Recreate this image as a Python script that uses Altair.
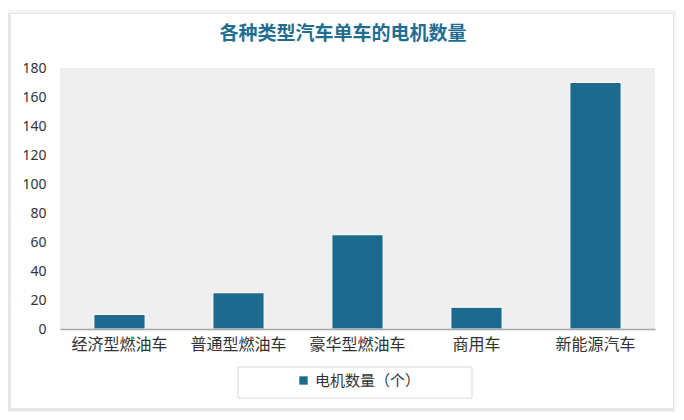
import altair as alt
import pandas as pd

categories = ["经济型燃油车", "普通型燃油车", "豪华型燃油车", "商用车", "新能源汽车"]
values = [10, 25, 65, 15, 170]
series_name = "电机数量（个）"
title_text = "各种类型汽车单车的电机数量"
y_ticks = [0, 20, 40, 60, 80, 100, 120, 140, 160, 180]

BAR = "#1c6b8f"
W, H = 595, 261
FONT = "Noto Sans CJK SC"

df = pd.DataFrame({"类型": categories, "数量": values, "系列": [series_name] * len(categories)})

one = alt.Data(values=[{"k": 1}])

shadow1 = alt.Chart(one).mark_rect(color="#f4f4f4").encode(
    x=alt.value(-56), x2=alt.value(617), y=alt.value(-58), y2=alt.value(347))
shadow2 = alt.Chart(one).mark_rect(color="#e6e6e6").encode(
    x=alt.value(-52), x2=alt.value(614), y=alt.value(-55), y2=alt.value(343))
card = alt.Chart(one).mark_rect(color="#ffffff").encode(
    x=alt.value(-49), x2=alt.value(613), y=alt.value(-54), y2=alt.value(340))
hatch_rect = alt.Chart(one).mark_rect(color="#efefef").encode(
    x=alt.value(0), x2=alt.value(W), y=alt.value(0), y2=alt.value(H))
legend_box = alt.Chart(one).mark_rect(fill=None, stroke="#d9d9d9", strokeWidth=1).encode(
    x=alt.value(178), x2=alt.value(412), y=alt.value(299), y2=alt.value(330))
title_mark = alt.Chart(one).mark_text(
    text=title_text, fontSize=19, font=FONT, fontWeight="bold", color="#1f6e91",
    align="center", baseline="middle").encode(x=alt.value(283), y=alt.value(-34))

bars = alt.Chart(df).mark_bar(stroke="white", strokeWidth=1).encode(
    x=alt.X("类型:N", sort=categories,
            scale=alt.Scale(paddingInner=0.57, paddingOuter=0.285),
            axis=alt.Axis(title=None, labelAngle=0, labelFontSize=16, labelColor="#333333",
                          labelFont=FONT, labelPadding=7, ticks=False, domainColor="#a6a6a6",
                          domainWidth=1.5, grid=False, zindex=1)),
    y=alt.Y("数量:Q", scale=alt.Scale(domain=[0, 180], nice=False),
            axis=alt.Axis(title=None, values=y_ticks, labelFontSize=14, labelColor="#333333",
                          labelFont="Noto Sans", labelPadding=14, ticks=False, domain=False,
                          grid=False, zindex=1)),
    color=alt.Color("系列:N", scale=alt.Scale(range=[BAR]),
                    legend=alt.Legend(title=None, orient="none", legendX=236, legendY=305,
                                      symbolType="square", symbolSize=70, labelFontSize=15,
                                      labelFont=FONT, labelColor="#333333", padding=0,
                                      symbolStrokeWidth=0)),
)

chart = alt.layer(shadow1, shadow2, card, hatch_rect, bars, legend_box, title_mark).properties(
    width=W, height=H,
    autosize=alt.AutoSizeParams(type="none"),
    padding={"left": 52, "top": 60, "right": 21, "bottom": 83},
    background="white",
).configure_view(stroke=None)

chart.save("out.html", embed_options={"renderer": "svg", "actions": False})
